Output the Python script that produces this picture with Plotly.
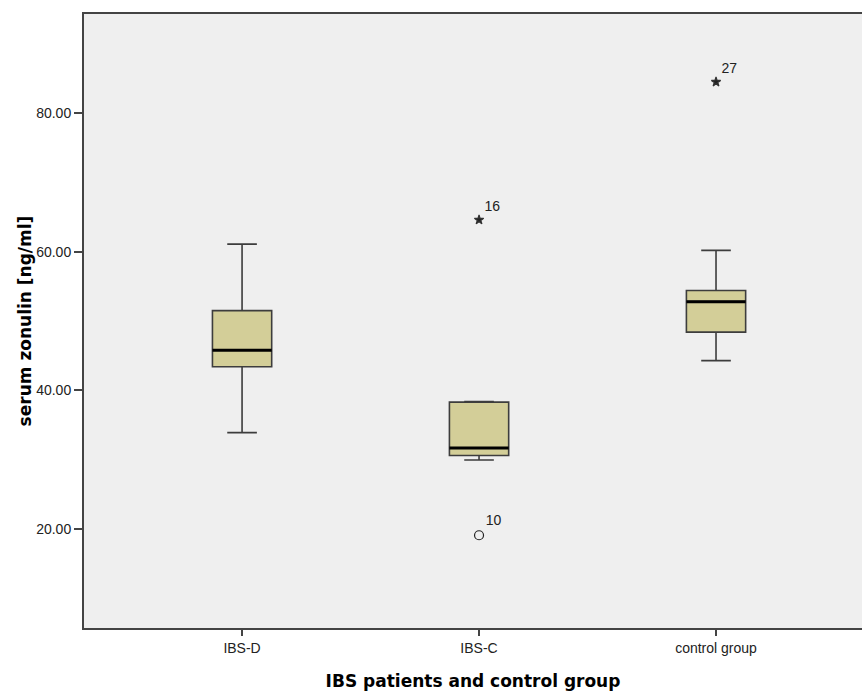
import plotly.graph_objects as go

categories = ["IBS-D", "IBS-C", "control group"]
q1 = [43.4, 30.6, 48.4]
median = [45.8, 31.7, 52.8]
q3 = [51.5, 38.3, 54.4]
lower_whisker = [33.9, 29.95, 44.3]
upper_whisker = [61.1, 38.4, 60.2]

# outliers: (category index, value, case label, kind)
outlier_cat = [1, 1, 2]
outlier_val = [64.6, 19.1, 84.5]
outlier_label = ["16", "10", "27"]
outlier_kind = ["extreme", "mild", "extreme"]

y_ticks = [20, 40, 60, 80]

BOX_W = 0.25
FILL = "#D3CE98"
EDGE = "#3d3d3d"
FONT = "Arial, Liberation Sans, sans-serif"
TFONT = "DejaVu Sans, Verdana, sans-serif"

fig = go.Figure()
for i, c in enumerate(categories):
    fig.add_trace(go.Box(
        x=[i], q1=[q1[i]], median=[median[i]], q3=[q3[i]],
        lowerfence=[lower_whisker[i]], upperfence=[upper_whisker[i]],
        width=BOX_W, whiskerwidth=0.5, fillcolor=FILL,
        line=dict(color=EDGE, width=1.6), boxpoints=False,
        showlegend=False, name=c,
    ))

# thick median lines
for i in range(len(categories)):
    fig.add_shape(type="line", xref="x", yref="y",
                  x0=i - BOX_W / 2, x1=i + BOX_W / 2, y0=median[i], y1=median[i],
                  line=dict(color="black", width=3))

for kind, sym, size in [("extreme", "star", 7), ("mild", "circle-open", 9)]:
    idx = [k for k in range(len(outlier_val)) if outlier_kind[k] == kind]
    fig.add_trace(go.Scatter(
        x=[outlier_cat[k] for k in idx], y=[outlier_val[k] for k in idx],
        mode="markers+text", text=[outlier_label[k] for k in idx],
        textposition="top right", textfont=dict(family=FONT, size=14, color="#222"),
        marker=dict(symbol=sym, size=size, color="#222", line=dict(color="#333", width=1.2)),
        showlegend=False, cliponaxis=False,
    ))

fig.update_layout(
    width=862, height=691,
    margin=dict(l=84, r=0, t=14, b=63),
    paper_bgcolor="white", plot_bgcolor="#EFEFEF",
    font=dict(family=FONT, size=13, color="#222"),
    xaxis=dict(
        range=[-0.667, 2.616], tickvals=list(range(len(categories))), ticktext=categories,
        showgrid=False, zeroline=False, showline=True, mirror=True,
        linecolor="#444", linewidth=2, ticks="outside", ticklen=6, tickwidth=1.5, tickcolor="#444",
        tickfont=dict(size=14, color="#222"),
        title=dict(text="<b>IBS patients and control group</b>",
                   font=dict(family=TFONT, size=17, color="black"), standoff=20),
    ),
    yaxis=dict(
        range=[5.72, 94.3], tickvals=y_ticks, ticktext=[f"{v:.2f}" for v in y_ticks],
        showgrid=False, zeroline=False, showline=True, mirror=False,
        linecolor="#444", linewidth=2, ticks="outside", ticklen=8, tickwidth=1.5, tickcolor="#444",
        tickfont=dict(size=14, color="#222"),
        title=dict(text="<b>serum zonulin [ng/ml]</b>",
                   font=dict(family=TFONT, size=17, color="black"), standoff=0),
    ),
)

fig.write_html("out.html", config={"displayModeBar": False},
               post_script="document.body.style.margin='0';")
